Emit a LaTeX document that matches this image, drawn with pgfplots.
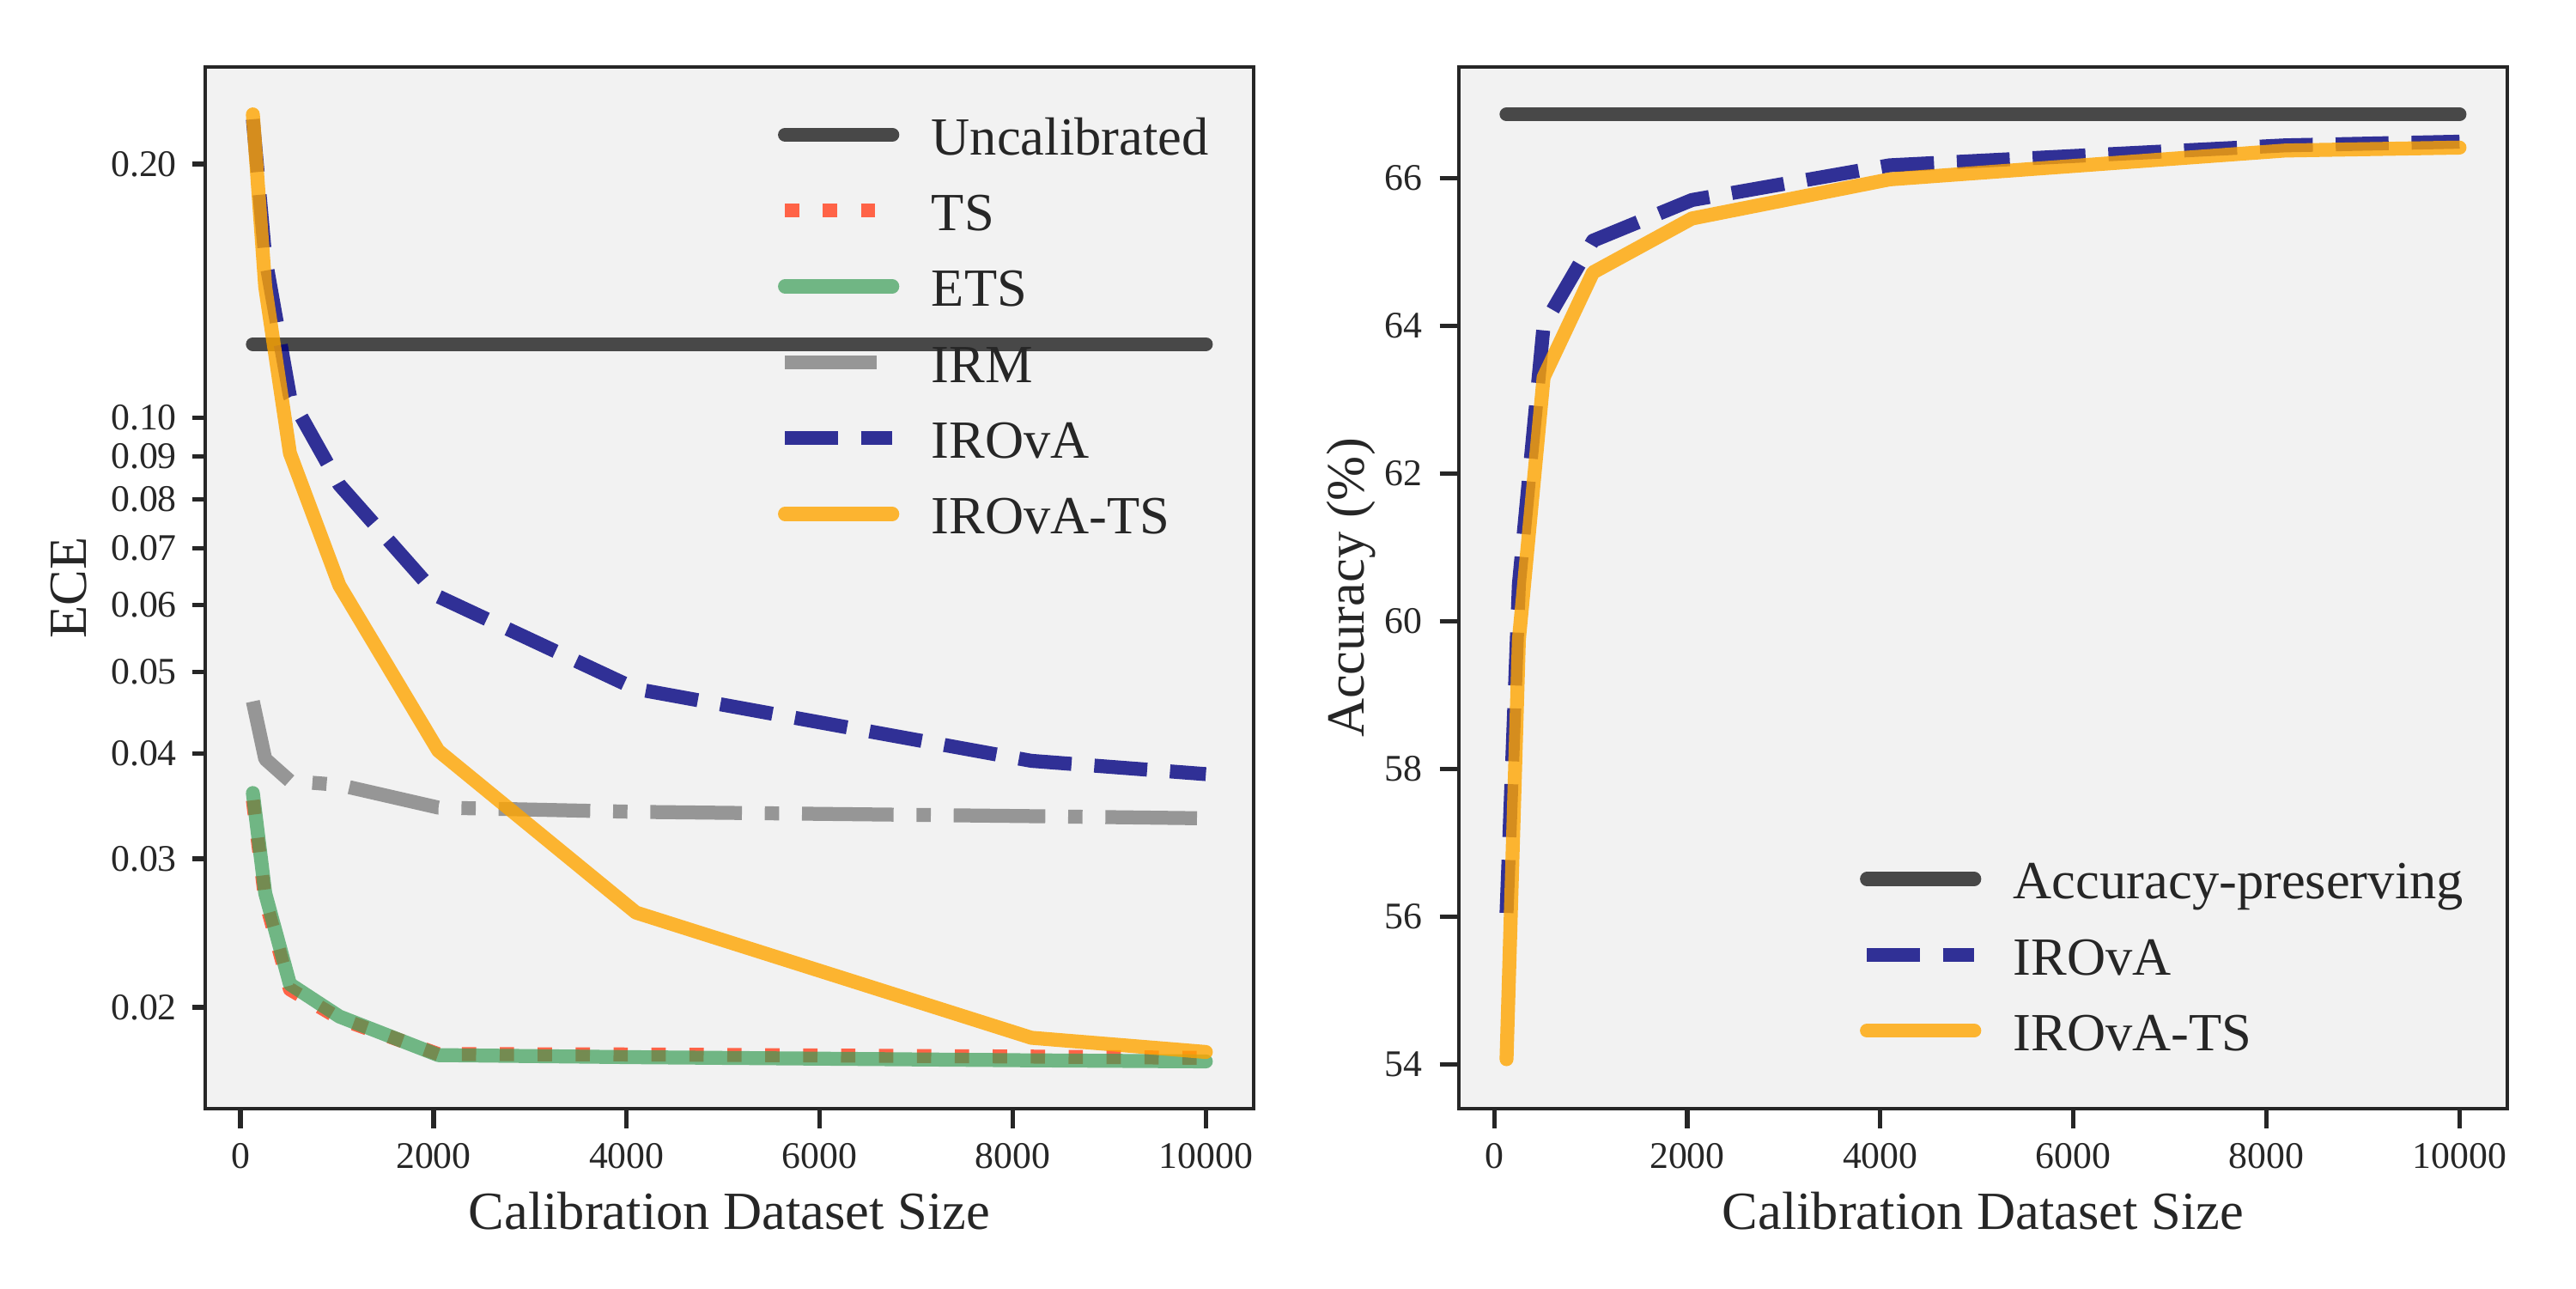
\documentclass[border=0pt]{standalone}
\usepackage{fontspec}
\setmainfont{Liberation Serif}
\usepackage{pgfplots}
\pgfplotsset{compat=1.18}
\definecolor{axbg}{RGB}{242,242,242}
\definecolor{spine}{RGB}{38,38,38}
\definecolor{tsc}{RGB}{255,99,71}
\definecolor{etsc}{RGB}{58,157,86}
\definecolor{irmc}{RGB}{128,128,128}
\definecolor{irovac}{RGB}{0,0,128}
\definecolor{irovatsc}{RGB}{255,165,0}
\pgfplotsset{
  mystyle/.style={
    width=293pt, height=291.1pt, scale only axis,
    axis background/.style={fill=axbg},
    axis line style={draw=spine, line width=1.05pt},
    tick pos=left, tick align=outside,
    every tick/.style={draw=spine, line width=1.25pt},
    major tick length=5.4pt,
    scaled x ticks=false, scaled y ticks=false,
    xmin=-365.6, xmax=10493.6,
    xtick={0,2000,4000,6000,8000,10000},
    xticklabels={0,2000,4000,6000,8000,10000},
    ticklabel style={font=\fontsize{10.5}{12}\selectfont, text=spine},
    xticklabel style={anchor=base, inner sep=0pt, yshift=-11.3pt},
    label style={font=\fontsize{15}{18}\selectfont, text=spine},
    xlabel={Calibration Dataset Size},
    xlabel style={at={(axis description cs:0.5,-0.11611)}, anchor=base, inner sep=0pt},
    no markers,
    legend cell align=left,
    legend style={draw=none, fill=none, inner sep=0pt, outer sep=0pt,
      row sep=7.2pt, font=\fontsize{15}{18}\selectfont, text=spine,
      nodes={inner sep=0pt, text height=10.5pt, text depth=3.5pt, text=spine},
      /tikz/every odd column/.append style={column sep=9pt}},
    legend image code/.code={\draw[##1] (0pt,2.1pt) -- (30pt,2.1pt);},
  },
  solidl/.style={line width=3.9pt, line cap=round, line join=round},
  dashl/.style={line width=3.9pt, line cap=butt, line join=round},
}
\begin{document}
\begin{tikzpicture}
\useasboundingbox (-57.36pt,-50.16pt) rectangle (662.64pt,309.84pt);
% ---------------- left panel ----------------
\begin{axis}[mystyle,
  at={(0pt,0pt)}, anchor=south west,
  ymode=log, ymin=0.01516, ymax=0.2606,
  ytick=\empty, yminorticks=false,
  extra y ticks={0.02,0.03,0.04,0.05,0.06,0.07,0.08,0.09,0.1,0.2},
  extra y tick labels={0.02,0.03,0.04,0.05,0.06,0.07,0.08,0.09,0.10,0.20},
  extra y tick style={major tick length=3.6pt,
    yticklabel style={anchor=east, inner sep=0pt, xshift=-4.15pt}},
  ylabel={ECE},
  ylabel style={at={(axis description cs:-0.11331,0.5)}, anchor=base, inner sep=0pt},
  legend style={at={(axis description cs:0.5464,0.9519)}, anchor=north west},
]
\addplot[solidl, draw=black, draw opacity=0.7] coordinates {(128,0.1223) (10000,0.1223)};
\addlegendentry{Uncalibrated}
\addplot[dashl, draw=tsc, dash pattern=on 4pt off 6.6pt] coordinates {
 (128,0.0352) (256,0.0268) (512,0.0210) (1024,0.0194) (2048,0.0176) (4096,0.01758) (8192,0.01748) (10000,0.01742)};
\addlegendentry{TS}
\addplot[solidl, draw=etsc, draw opacity=0.7] coordinates {
 (128,0.0359) (256,0.0273) (512,0.0213) (1024,0.0195) (2048,0.01755) (4096,0.01745) (8192,0.0173) (10000,0.01725)};
\addlegendentry{ETS}
\addplot[dashl, draw=irmc, draw opacity=0.8, dash pattern=on 25.6pt off 6.4pt on 4pt off 6.4pt] coordinates {
 (128,0.0461) (256,0.0394) (512,0.0371) (1024,0.0367) (2048,0.0345) (4096,0.0341) (8192,0.0337) (10000,0.0335)};
\addlegendentry{IRM}
\addplot[dashl, draw=irovac, draw opacity=0.8, dash pattern=on 14.8pt off 6.4pt] coordinates {
 (128,0.226) (256,0.155) (512,0.106) (1024,0.0833) (2048,0.0614) (4096,0.0477) (8192,0.0392) (10000,0.0378)};
\addlegendentry{IROvA}
\addplot[solidl, draw=irovatsc, draw opacity=0.8] coordinates {
 (128,0.229) (256,0.143) (512,0.0908) (1024,0.0633) (2048,0.0403) (4096,0.0259) (8192,0.0184) (10000,0.0177)};
\addlegendentry{IROvA-TS}
\end{axis}
% ---------------- right panel ----------------
\begin{axis}[mystyle,
  at={(350.4pt,0pt)}, anchor=south west,
  ymin=53.4, ymax=67.5,
  ytick={54,56,58,60,62,64,66},
  yticklabels={54,56,58,60,62,64,66},
  yticklabel style={anchor=east, inner sep=0pt, xshift=-4.7pt},
  ylabel={Accuracy (\%)},
  ylabel style={at={(axis description cs:-0.09078,0.5)}, anchor=base, inner sep=0pt},
  legend style={at={(axis description cs:0.3826,0.2373)}, anchor=north west},
]
\addplot[solidl, draw=black, draw opacity=0.7] coordinates {(128,66.86) (10000,66.86)};
\addlegendentry{Accuracy-preserving}
\addplot[dashl, draw=irovac, draw opacity=0.8, dash pattern=on 14.8pt off 6.4pt] coordinates {
 (128,56.05) (256,60.5) (512,64.0) (1024,65.15) (2048,65.70) (4096,66.17) (8192,66.44) (10000,66.49)};
\addlegendentry{IROvA}
\addplot[solidl, draw=irovatsc, draw opacity=0.8] coordinates {
 (128,54.07) (256,59.75) (512,63.30) (1024,64.72) (2048,65.45) (4096,65.98) (8192,66.37) (10000,66.41)};
\addlegendentry{IROvA-TS}
\end{axis}
\end{tikzpicture}
\end{document}
